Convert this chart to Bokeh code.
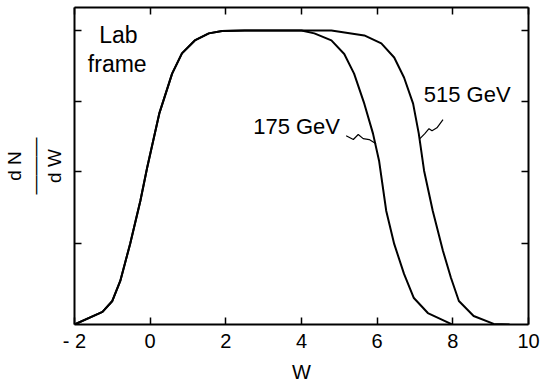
from bokeh.plotting import figure
from bokeh.models import Range1d, FixedTicker, LinearAxis, Label
from bokeh.embed import file_html
from bokeh.resources import INLINE

# ---- data ----
w_rise = [-2.0, -1.26, -1.0, -0.79, -0.53, -0.26, -0.08, 0.24, 0.58, 0.84, 1.18, 1.55, 1.9, 2.5, 3.0, 3.5, 4.0]
y_rise = [0.0, 0.043, 0.08, 0.148, 0.274, 0.42, 0.533, 0.717, 0.853, 0.922, 0.966, 0.99, 0.998, 1.0, 1.0, 1.0, 1.0]

w_fall_175 = [4.34, 4.79, 5.13, 5.39, 5.66, 5.89, 6.05, 6.24, 6.45, 6.71, 6.97, 7.34, 7.95, 8.0]
y_fall_175 = [0.99, 0.966, 0.92, 0.853, 0.751, 0.649, 0.557, 0.386, 0.274, 0.172, 0.09, 0.039, 0.002, 0.0]

w_fall_515 = [4.79, 5.66, 6.11, 6.45, 6.71, 6.95, 7.10, 7.24, 7.47, 7.74, 7.95, 8.16, 8.55, 9.08, 9.5]
y_fall_515 = [1.0, 0.983, 0.956, 0.908, 0.84, 0.751, 0.649, 0.523, 0.386, 0.25, 0.159, 0.08, 0.029, 0.002, 0.0]

# squiggly pointers from labels to curves
sq175_w = [5.18, 5.37, 5.50, 5.63, 5.79, 5.97]
sq175_y = [0.642, 0.629, 0.646, 0.632, 0.629, 0.615]
sq515_w = [7.74, 7.58, 7.45, 7.37, 7.26, 7.13]
sq515_y = [0.697, 0.669, 0.659, 0.666, 0.649, 0.632]

x_ticks = [-2, 0, 2, 4, 6, 8, 10]
x_tick_labels = {-2: "- 2", 0: "0", 2: "2", 4: "4", 6: "6", 8: "8", 10: "10"}
y_ticks = [0.275, 0.52, 0.76, 1.0]

FONT = "Liberation Sans"

p = figure(width=542, height=386, output_backend="svg", toolbar_location=None,
           x_range=Range1d(-2, 10), y_range=Range1d(0, 1.078),
           min_border_left=73, min_border_right=14, min_border_top=7, min_border_bottom=62)
p.outline_line_color = None
p.grid.visible = False
p.background_fill_color = "white"
p.border_fill_color = "white"

# curves
w175 = w_rise + w_fall_175
y175 = y_rise + y_fall_175
w515 = w_rise + w_fall_515
y515 = y_rise + y_fall_515
p.line(w515, y515, line_color="black", line_width=2)
p.line(w175, y175, line_color="black", line_width=2)
p.line(sq175_w, sq175_y, line_color="black", line_width=1.2)
p.line(sq515_w, sq515_y, line_color="black", line_width=1.2)

def style_axis(ax, ticks, labels=True):
    ax.ticker = FixedTicker(ticks=ticks)
    ax.axis_line_color = "black"
    ax.axis_line_width = 2
    ax.major_tick_line_color = "black"
    ax.major_tick_line_width = 1.5
    ax.major_tick_in = 7
    ax.major_tick_out = 0
    ax.minor_tick_line_color = None
    if not labels:
        ax.major_label_overrides = {t: "" for t in ticks}
        ax.major_label_standoff = 0

xa = p.xaxis[0]
style_axis(xa, x_ticks)
xa.major_label_overrides = x_tick_labels
xa.major_label_text_font = FONT
xa.major_label_text_font_size = "20px"
xa.major_label_text_color = "black"
xa.major_label_standoff = 5
xa.axis_label = "W"
xa.axis_label_text_font = FONT
xa.axis_label_text_font_size = "20px"
xa.axis_label_text_font_style = "normal"
xa.axis_label_text_color = "black"
xa.axis_label_standoff = 6

ya = p.yaxis[0]
style_axis(ya, y_ticks, labels=False)
ya.axis_label = "d N\n———\nd W"
ya.axis_label_text_font = FONT
ya.axis_label_text_font_size = "19px"
ya.axis_label_text_font_style = "normal"
ya.axis_label_text_color = "black"
ya.axis_label_text_line_height = 0.95
ya.axis_label_standoff = 10

top = LinearAxis()
style_axis(top, x_ticks, labels=False)
p.add_layout(top, "above")
right = LinearAxis()
style_axis(right, y_ticks, labels=False)
p.add_layout(right, "right")

# annotations
def lab(x, y, t, size="23px"):
    p.add_layout(Label(x=x, y=y, text=t, text_font=FONT, text_font_size=size,
                       text_align="center", text_baseline="middle",
                       text_color="black"))

lab(-0.84, 0.985, "Lab")
lab(-0.87, 0.885, "frame")
lab(3.87, 0.673, "175 GeV", size="22px")
lab(8.38, 0.782, "515 GeV", size="22px")

open("out.html", "w").write(file_html(p, INLINE))
